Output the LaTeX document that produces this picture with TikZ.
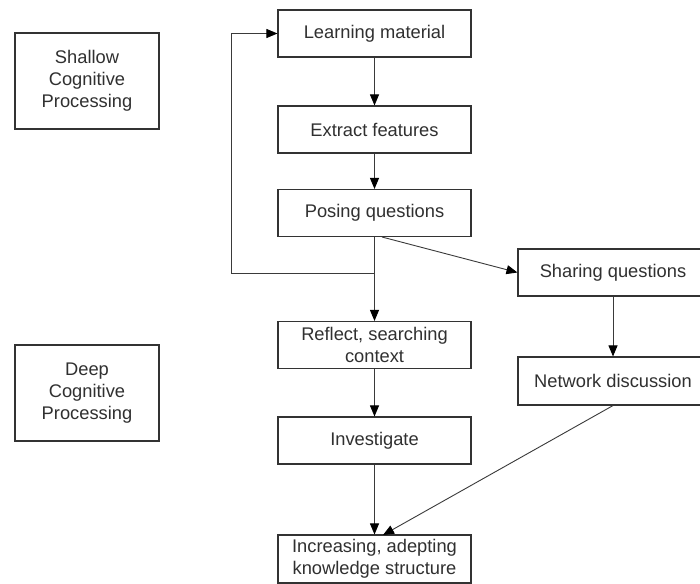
\documentclass[tikz,border=0pt]{standalone}
\usepackage{fontspec}
\setmainfont{Liberation Sans}
\usetikzlibrary{arrows.meta,calc}
\definecolor{boxc}{HTML}{333333}
\definecolor{linec}{HTML}{3A3A3A}
\definecolor{txtc}{HTML}{303030}
\begin{document}
\begin{tikzpicture}[x=1pt,y=-1pt,
  fbox/.style={draw=boxc,line width=1.1pt,rectangle,inner sep=0pt,align=center,
    text=txtc,font=\fontsize{18.3}{22}\selectfont},
  cbox/.style={fbox,minimum width=193pt,minimum height=47pt},
  rbox/.style={fbox,minimum width=190pt,minimum height=47pt},
  lbox/.style={fbox,minimum width=144pt,minimum height=96pt},
  conn/.style={draw=linec,line width=0.9pt,-{Triangle[length=11pt,width=9pt,fill=black,color=black]}},
  plain/.style={draw=linec,line width=0.9pt}]
\clip (0,0) rectangle (700,583);
\fill[white] (0,0) rectangle (700,583);
\node[lbox] (shallow) at (87,81) {Shallow\\Cognitive\\Processing};
\node[lbox] (deep) at (87,393) {Deep\\Cognitive\\Processing};
\node[cbox] (learn) at (374.5,33.5) {Learning material};
\node[cbox] (extract) at (374.5,129.5) {Extract features};
\node[cbox] (pose) at (374.5,213) {Posing questions};
\node[cbox] (reflect) at (374.5,345) {Reflect, searching\\context};
\node[cbox] (invest) at (374.5,440.5) {Investigate};
\node[cbox,minimum height=48pt] (incr) at (374.5,559) {Increasing, adepting\\knowledge structure};
\node[rbox] (share) at (613,272.5) {Sharing questions};
\node[rbox,minimum height=48pt] (net) at (613,381) {Network discussion};
\coordinate (fb) at (374.5,273);
\coordinate (fbl) at (231,273);
\coordinate (fbt) at (231,33.5);
\coordinate (ps) at (382,237);
\coordinate (it) at (383,535);
\draw[conn] (learn) -- (extract);
\draw[conn] (extract) -- (pose);
\draw[conn] (pose) -- (reflect);
\draw[conn] (reflect) -- (invest);
\draw[conn] (invest) -- (incr);
\draw[plain] (fb) -- (fbl) -- (fbt);
\draw[conn] (fbt) -- (learn.west);
\draw[conn] (ps) -- (share.west);
\draw[conn] (share) -- (net);
\draw[conn] (net.south) -- (it);
\end{tikzpicture}
\end{document}
